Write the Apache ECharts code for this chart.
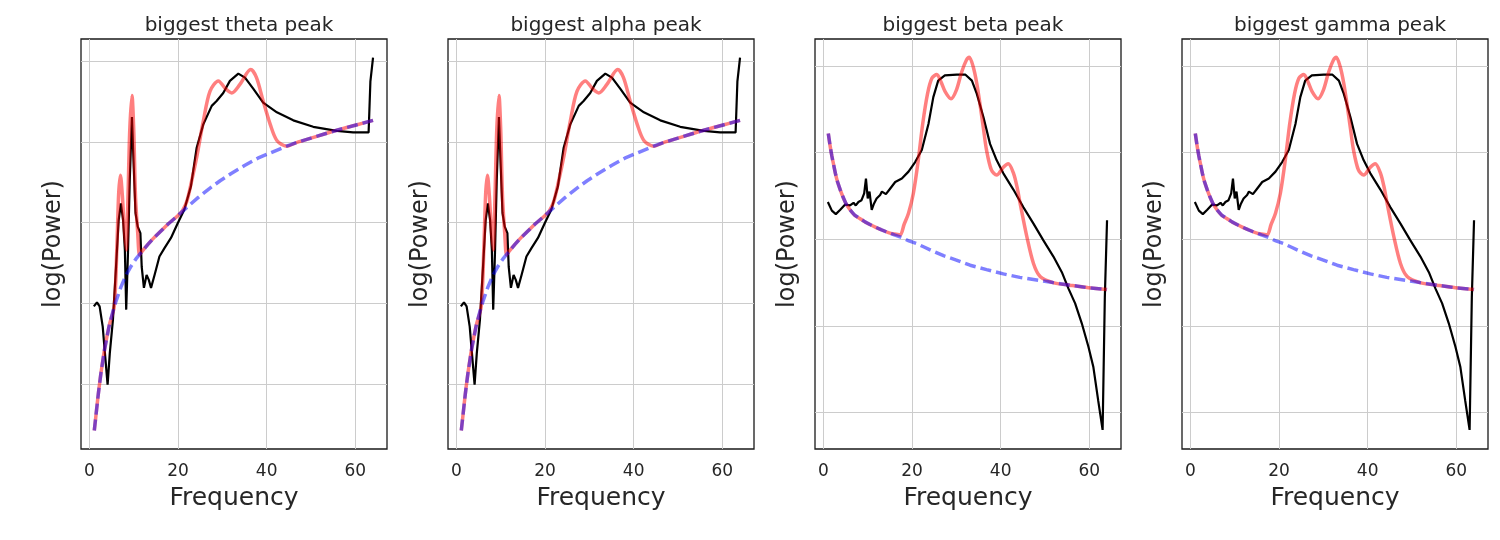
<!DOCTYPE html>
<html>
<head>
<meta charset="utf-8">
<script src="https://cdn.jsdelivr.net/npm/echarts@6/dist/echarts.min.js"></script>
<style>
  html, body { margin: 0; padding: 0; background: #fff; }
  #main { width: 1500px; height: 540px; }
</style>
</head>
<body>
<div id="main"></div>
<script>
var titles = ['biggest theta peak', 'biggest alpha peak', 'biggest beta peak', 'biggest gamma peak'];
var xTicks = [0, 20, 40, 60];
var yGrid = [0, 1, 2, 3, 4];

// theta / alpha panels (same spectrum)
var dataFreqA = [1, 1.7, 2.3, 3, 3.5, 4.1, 4.6, 5.3, 6, 6.6, 7.1, 7.6, 8, 8.3, 8.7, 9.1, 9.6, 10, 10.4, 10.9,
  11.5, 11.8, 12.3, 12.9, 13.4, 13.9, 14.7, 15.8, 16.9, 18.4, 19.9, 21.4, 22.9, 24.2, 25.7, 27.6, 28.7, 30.2,
  31.7, 33.6, 35.1, 37, 39.2, 42.3, 46, 50.5, 55.8, 59.5, 63, 63.4, 64];
var dataPowA = [0.96, 1.01, 0.96, 0.71, 0.38, -0.01, 0.38, 0.79, 1.45, 2.03, 2.24, 2.03, 1.66, 0.92, 1.62, 2.53,
  3.31, 2.69, 2.12, 1.95, 1.87, 1.45, 1.19, 1.35, 1.29, 1.19, 1.35, 1.58, 1.68, 1.81, 1.99, 2.16, 2.45, 2.93,
  3.22, 3.45, 3.51, 3.61, 3.76, 3.85, 3.80, 3.66, 3.49, 3.37, 3.27, 3.19, 3.14, 3.12, 3.12, 3.75, 4.05];

var modelFreqA = [1.1, 1.5, 2, 2.6, 3.4, 4.5, 5.6, 6.2, 6.6, 7.0, 7.4, 7.9, 8.3, 8.7, 9.1, 9.6, 10.0, 10.4, 10.9,
  11.3, 11.7, 13.2, 14.7, 16.2, 17.7, 20, 21, 22, 23, 24.2, 25.7, 27.2, 29.1, 30.6, 32.1, 34, 36.4, 37.7, 39.2,
  40.8, 42.3, 44.5, 47, 50, 53, 56, 60, 64];
var modelPowA = [-0.58, -0.38, -0.13, 0.13, 0.42, 0.73, 0.96, 1.70, 2.36, 2.59, 2.36, 1.91, 1.66, 2.32, 3.15,
  3.58, 3.15, 2.32, 1.87, 1.60, 1.63, 1.73, 1.82, 1.90, 1.98, 2.09, 2.15, 2.27, 2.50, 2.81, 3.26, 3.63, 3.76,
  3.67, 3.61, 3.72, 3.90, 3.80, 3.51, 3.22, 3.02, 2.95, 3.00, 3.05, 3.10, 3.15, 3.21, 3.27];

var apFreqA = [1.1, 1.5, 2, 2.6, 3.4, 4.5, 5.6, 7.1, 8.2, 9.4, 10.5, 11.7, 13.2, 14.7, 16.2, 17.7, 20, 22, 24.5,
  27, 29.5, 32, 35, 38, 41, 44.5, 47, 50, 53, 56, 60, 64];
var apPowA = [-0.58, -0.38, -0.13, 0.13, 0.42, 0.73, 0.96, 1.20, 1.34, 1.46, 1.55, 1.63, 1.73, 1.82, 1.90, 1.98,
  2.09, 2.19, 2.31, 2.42, 2.52, 2.61, 2.71, 2.80, 2.87, 2.95, 3.00, 3.05, 3.10, 3.15, 3.21, 3.27];

// beta / gamma panels (same spectrum)
var dataFreqB = [1, 1.9, 2.8, 3.8, 4.9, 6.0, 6.8, 7.3, 7.9, 8.6, 9.2, 9.6, 10.0, 10.4, 10.9, 11.4, 12.0, 12.8,
  13.2, 14.1, 15.0, 16.2, 17.7, 19.2, 20.7, 22.2, 23.7, 24.8, 25.9, 27.4, 30.1, 32, 33.5, 34.6, 36.1, 37.6,
  39.1, 40.6, 42.9, 45.1, 47.4, 49.6, 51.9, 53.8, 55.3, 56.8, 58.3, 59.8, 60.9, 62, 63, 63.5, 64];
var dataPowB = [2.43, 2.33, 2.29, 2.34, 2.40, 2.39, 2.42, 2.39, 2.43, 2.45, 2.53, 2.70, 2.47, 2.55, 2.34, 2.41,
  2.47, 2.51, 2.55, 2.52, 2.58, 2.66, 2.70, 2.78, 2.89, 3.03, 3.33, 3.64, 3.83, 3.89, 3.90, 3.90, 3.83, 3.68,
  3.41, 3.10, 2.91, 2.76, 2.57, 2.37, 2.18, 1.99, 1.80, 1.62, 1.43, 1.26, 1.03, 0.76, 0.53, 0.14, -0.20, 1.33,
  2.22];

var modelFreqB = [1.1, 1.5, 1.9, 2.3, 2.7, 3.2, 3.8, 4.4, 5.1, 6, 7, 8.2, 9.4, 10.5, 11.7, 13, 14.5, 16, 17.3,
  18.2, 19.2, 20.3, 21.4, 22.4, 23.5, 24.5, 25.6, 26.5, 27.5, 28.8, 30, 31.2, 32.3, 32.9, 33.8, 34.6, 35.3,
  36.1, 36.8, 37.9, 39.1, 40.6, 41.7, 42.9, 43.7, 44.4, 45.9, 47.4, 48.9, 51.8, 55.6, 59.8, 64];
var modelPowB = [3.22, 3.08, 2.96, 2.86, 2.76, 2.66, 2.57, 2.49, 2.41, 2.34, 2.28, 2.24, 2.20, 2.17, 2.14, 2.11,
  2.08, 2.06, 2.05, 2.17, 2.30, 2.53, 2.91, 3.33, 3.68, 3.86, 3.90, 3.82, 3.70, 3.62, 3.72, 3.93, 4.07, 4.10,
  3.99, 3.80, 3.57, 3.28, 3.03, 2.80, 2.74, 2.83, 2.87, 2.76, 2.60, 2.41, 2.03, 1.72, 1.57, 1.50, 1.47, 1.44,
  1.42];

var apFreqB = [1.1, 1.5, 1.9, 2.3, 2.7, 3.2, 3.8, 4.4, 5.1, 6, 7, 8.2, 9.4, 10.5, 11.7, 13, 14.5, 16, 17.7, 19.3,
  21, 22.7, 24.4, 27.1, 30, 33.1, 36.8, 40.6, 44.3, 48.1, 51.8, 55.6, 59.8, 64];
var apPowB = [3.22, 3.08, 2.96, 2.86, 2.76, 2.66, 2.57, 2.49, 2.41, 2.34, 2.28, 2.24, 2.20, 2.17, 2.14, 2.11,
  2.08, 2.05, 2.02, 1.98, 1.95, 1.91, 1.87, 1.81, 1.76, 1.70, 1.65, 1.60, 1.56, 1.53, 1.50, 1.47, 1.44, 1.42];

function zip(xs, ys) {
  return xs.map(function (x, i) { return [x, ys[i]]; });
}

var spectraA = { data: zip(dataFreqA, dataPowA), model: zip(modelFreqA, modelPowA), ap: zip(apFreqA, apPowA), ymin: -0.81, ymax: 4.28 };
var spectraB = { data: zip(dataFreqB, dataPowB), model: zip(modelFreqB, modelPowB), ap: zip(apFreqB, apPowB), ymin: -0.42, ymax: 4.31 };
var panels = [spectraA, spectraA, spectraB, spectraB];
var lefts = [81, 448, 815, 1182];
var W = 306, TOP = 39, H = 410;
var FONT = 'DejaVu Sans';
var TXT = '#262626';

var options = {
  animation: false,
  backgroundColor: '#fff',
  title: [],
  grid: [],
  xAxis: [],
  yAxis: [],
  series: []
};

panels.forEach(function (p, i) {
  options.title.push({
    text: titles[i],
    left: lefts[i] + W / 2,
    top: 11,
    textAlign: 'center',
    textStyle: { fontFamily: FONT, fontSize: 20, fontWeight: 'normal', color: TXT }
  });
  options.grid.push({
    left: lefts[i], top: TOP, width: W, height: H,
    show: true, borderColor: '#1a1a1a', borderWidth: 1.3, containLabel: false
  });
  options.xAxis.push({
    type: 'value', gridIndex: i, min: -1.9, max: 67.15,
    name: 'Frequency', nameLocation: 'middle', nameGap: 37,
    nameTextStyle: { fontFamily: FONT, fontSize: 25, color: TXT },
    axisLine: { show: false },
    axisTick: { show: false, customValues: xTicks },
    axisLabel: { customValues: xTicks, fontFamily: FONT, fontSize: 17, color: TXT, margin: 14 },
    splitLine: { show: true, lineStyle: { color: '#cccccc', width: 1 } }
  });
  options.yAxis.push({
    type: 'value', gridIndex: i, min: p.ymin, max: p.ymax,
    name: 'log(Power)', nameLocation: 'middle', nameGap: 15,
    nameTextStyle: { fontFamily: FONT, fontSize: 24, color: TXT },
    axisLine: { show: false },
    axisTick: { show: false, customValues: yGrid },
    axisLabel: { show: false, customValues: yGrid },
    splitLine: { show: true, lineStyle: { color: '#cccccc', width: 1 } }
  });
  // data, full model fit, aperiodic fit
  options.series.push({
    type: 'line', xAxisIndex: i, yAxisIndex: i, data: p.data, showSymbol: false, symbol: 'none',
    lineStyle: { color: '#000', width: 2.2 }, z: 2
  });
  options.series.push({
    type: 'line', xAxisIndex: i, yAxisIndex: i, data: p.model, showSymbol: false, symbol: 'none',
    smooth: 0.3, lineStyle: { color: 'rgba(255,0,0,0.5)', width: 3.5 }, z: 3
  });
  options.series.push({
    type: 'line', xAxisIndex: i, yAxisIndex: i, data: p.ap, showSymbol: false, symbol: 'none',
    lineStyle: { color: 'rgba(0,0,255,0.5)', width: 3.5, type: [11, 5] }, z: 4
  });
});

var chart = echarts.init(document.getElementById('main'), null, { renderer: 'canvas' });
chart.setOption(options);
</script>
</body>
</html>
